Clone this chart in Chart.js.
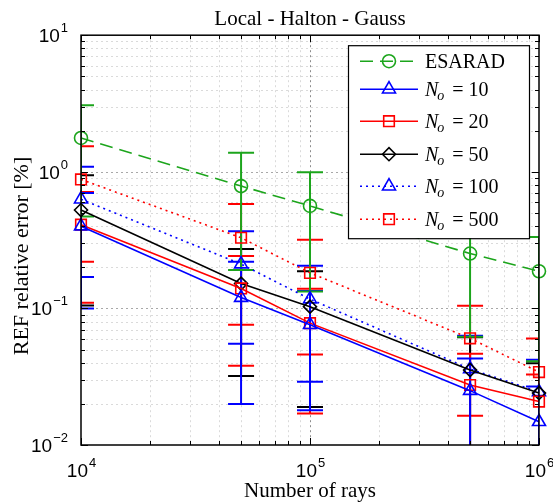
<!DOCTYPE html>
<html lang="en">
<head>
<meta charset="UTF-8">
<title>Local - Halton - Gauss</title>
<script src="https://cdn.jsdelivr.net/npm/chart.js@4.4.1/dist/chart.umd.min.js"></script>
<style>
  body { margin: 0; background: #fff; }
  #wrap { width: 553px; height: 504px; }
</style>
</head>
<body>
<div id="wrap"><canvas id="refChart" width="553" height="504"></canvas></div>
<script>
// number of rays traced per run
const rays = [1e4, 5e4, 1e5, 5e5, 1e6];

// mean REF relative error [%] and the +/- spread of each run
const esarad    = [1.77, 0.786, 0.563, 0.252, 0.187];
const esaradErr = [1.30, 0.595, 0.43, 0.19, 0.146];
const no10      = [0.40, 0.12, 0.076, 0.025, 0.0148];
const no10Err   = [0.30, 0.10, 0.058, 0.018, 0.012];
const no20      = [0.41, 0.14, 0.078, 0.0275, 0.0208];
const no20Err   = [0.30, 0.102, 0.061, 0.019, 0.012];
const no50      = [0.525, 0.152, 0.103, 0.0354, 0.024];
const no50Err   = [0.42, 0.12, 0.084, 0.026, 0.0156];
const no100     = [0.63, 0.211, 0.117, 0.036, 0.0245];
const no100Err  = [0.46, 0.156, 0.088, 0.027, 0.0175];
const no500     = [0.88, 0.329, 0.182, 0.0604, 0.0342];
const no500Err  = [0.66, 0.253, 0.136, 0.044, 0.026];

const seriesNames = ['ESARAD', 'N_o = 10', 'N_o = 20', 'N_o = 50', 'N_o = 100', 'N_o = 500'];
const seriesValues = [esarad, no10, no20, no50, no100, no500];
const seriesErrors = [esaradErr, no10Err, no20Err, no50Err, no100Err, no500Err];

// decade exponents used for the tick labels
const xExp = [4, 5, 6];
const yExp = [-2, -1, 0, 1];

// line look of each series
const styles = [
    { color: '#1ca51c', dash: [13, 7], marker: 'circle',   r: 6.5 },
    { color: '#0000ff', dash: [],      marker: 'triangle', r: 7.5 },
    { color: '#ff0000', dash: [],      marker: 'rect',     r: 7.5 },
    { color: '#000000', dash: [],      marker: 'rectRot',  r: 6.5 },
    { color: '#0000ff', dash: [2, 4],  marker: 'triangle', r: 7.5 },
    { color: '#ff0000', dash: [2, 4],  marker: 'rect',     r: 7.5 }
];

const serif = '"Liberation Serif", "Times New Roman", serif';
const sans = '"Liberation Sans", Arial, sans-serif';

function minorValues(exps) {
    const out = [];
    for (let i = 0; i < exps.length - 1; i++) {
        for (let k = 2; k <= 9; k++) out.push(k * Math.pow(10, exps[i]));
    }
    return out;
}

// dotted grid behind everything
const gridPlugin = {
    id: 'gridLines',
    beforeDatasetsDraw(chart) {
        const { ctx, chartArea: a, scales: { x, y } } = chart;
        ctx.save();
        ctx.lineWidth = 1;
        ctx.setLineDash([2, 3]);
        const vline = (v, col) => {
            const px = Math.round(x.getPixelForValue(v)) + 0.5;
            ctx.strokeStyle = col;
            ctx.beginPath(); ctx.moveTo(px, a.top); ctx.lineTo(px, a.bottom); ctx.stroke();
        };
        const hline = (v, col) => {
            const py = Math.round(y.getPixelForValue(v)) + 0.5;
            ctx.strokeStyle = col;
            ctx.beginPath(); ctx.moveTo(a.left, py); ctx.lineTo(a.right, py); ctx.stroke();
        };
        minorValues(xExp).forEach(v => vline(v, '#dadada'));
        minorValues(yExp).forEach(v => hline(v, '#dadada'));
        xExp.slice(1, -1).forEach(e => vline(Math.pow(10, e), '#8c8c8c'));
        yExp.slice(1, -1).forEach(e => hline(Math.pow(10, e), '#a8a8a8'));
        ctx.restore();
    }
};

// vertical error bars with caps, clipped to the axes box
const errorBarPlugin = {
    id: 'errorBars',
    beforeDatasetsDraw(chart) {
        const { ctx, chartArea: a, scales: { x, y } } = chart;
        const cap = 13;
        ctx.save();
        ctx.beginPath();
        ctx.rect(a.left, a.top, a.right - a.left, a.bottom - a.top);
        ctx.clip();
        ctx.setLineDash([]);
        ctx.lineWidth = 2;
        for (let i = chart.data.datasets.length - 1; i >= 0; i--) {
            const ds = chart.data.datasets[i];
            ctx.strokeStyle = ds.borderColor;
            ds.data.forEach((p, j) => {
                const e = ds.errorBars[j];
                const px = x.getPixelForValue(p.x);
                const hi = y.getPixelForValue(p.y + e);
                const lowVal = p.y - e;
                const lo = lowVal > 0 ? y.getPixelForValue(lowVal) : a.bottom + 20;
                ctx.beginPath();
                ctx.moveTo(px, hi); ctx.lineTo(px, lo);
                ctx.moveTo(px - cap, hi); ctx.lineTo(px + cap, hi);
                if (lowVal > 0) { ctx.moveTo(px - cap, lo); ctx.lineTo(px + cap, lo); }
                ctx.stroke();
            });
        }
        ctx.restore();
    }
};

function drawPow(ctx, exp, x, y, align) {
    // "10" with a raised exponent, y is the middle of the "10"
    ctx.font = '19px ' + sans;
    const base = '10';
    const sup = String(exp).replace('-', '\u2212');
    const wb = ctx.measureText(base).width;
    ctx.font = '13px ' + sans;
    const ws = ctx.measureText(sup).width;
    let left = x;
    if (align === 'right') left = x - wb - ws;
    if (align === 'center') left = x - (wb + ws) / 2;
    ctx.textAlign = 'left';
    ctx.textBaseline = 'alphabetic';
    ctx.font = '19px ' + sans;
    ctx.fillText(base, left, y + 7);
    ctx.font = '13px ' + sans;
    ctx.fillText(sup, left + wb + 1, y - 3);
}

function drawLegend(chart) {
    const { ctx, chartArea: a } = chart;
    const w = 181, h = 193;
    const left = a.right - w - 10, top = a.top + 10;
    const rows = [16, 44, 76, 109, 141, 174];
    ctx.save();
    ctx.fillStyle = '#fff';
    ctx.fillRect(left, top, w, h);
    ctx.strokeStyle = '#000';
    ctx.lineWidth = 1.2;
    ctx.strokeRect(left + 0.5, top + 0.5, w, h);
    chart.data.datasets.forEach((ds, i) => {
        const yy = top + rows[i];
        ctx.strokeStyle = ds.borderColor;
        ctx.lineWidth = ds.borderWidth;
        ctx.setLineDash(ds.borderDash || []);
        ctx.beginPath(); ctx.moveTo(left + 12, yy); ctx.lineTo(left + 70, yy); ctx.stroke();
        ctx.setLineDash([]);
        ctx.lineWidth = ds.pointBorderWidth;
        ctx.fillStyle = 'rgba(0,0,0,0)';
        Chart.helpers.drawPoint(ctx, {
            pointStyle: ds.pointStyle, radius: ds.pointRadius,
            borderWidth: ds.pointBorderWidth, rotation: 0
        }, left + 41, yy);

        ctx.fillStyle = '#000';
        ctx.textAlign = 'left';
        ctx.textBaseline = 'alphabetic';
        let tx = left + 77;
        const base = yy + 7;
        if (ds.label.startsWith('N_o')) {
            ctx.font = 'italic 20px ' + serif;
            ctx.fillText('N', tx, base);
            tx += ctx.measureText('N').width - 1;
            ctx.font = 'italic 14px ' + serif;
            ctx.fillText('o', tx, base + 4);
            tx += ctx.measureText('o').width + 8;
            ctx.font = '20px ' + serif;
            ctx.fillText('=', tx, base);
            tx += ctx.measureText('=').width + 5;
            ctx.fillText(ds.label.split('= ')[1], tx, base);
        } else {
            ctx.font = '20px ' + serif;
            ctx.fillText(ds.label, tx, base);
        }
    });
    ctx.restore();
}

// box, inward ticks, tick labels, axis titles and legend
const framePlugin = {
    id: 'frame',
    afterDraw(chart) {
        const { ctx, chartArea: a, scales: { x, y } } = chart;
        ctx.save();
        ctx.strokeStyle = '#000';
        ctx.lineWidth = 1;
        ctx.setLineDash([]);
        const xt = (v, len) => {
            const px = Math.round(x.getPixelForValue(v)) + 0.5;
            ctx.beginPath();
            ctx.moveTo(px, a.bottom); ctx.lineTo(px, a.bottom - len);
            ctx.moveTo(px, a.top); ctx.lineTo(px, a.top + len);
            ctx.stroke();
        };
        const yt = (v, len) => {
            const py = Math.round(y.getPixelForValue(v)) + 0.5;
            ctx.beginPath();
            ctx.moveTo(a.left, py); ctx.lineTo(a.left + len, py);
            ctx.moveTo(a.right, py); ctx.lineTo(a.right - len, py);
            ctx.stroke();
        };
        minorValues(xExp).forEach(v => xt(v, 4));
        minorValues(yExp).forEach(v => yt(v, 4));
        xExp.forEach(e => xt(Math.pow(10, e), 7));
        yExp.forEach(e => yt(Math.pow(10, e), 7));

        ctx.lineWidth = 1.5;
        ctx.strokeRect(a.left, a.top, a.right - a.left, a.bottom - a.top);

        ctx.fillStyle = '#000';
        xExp.forEach(e => drawPow(ctx, e, x.getPixelForValue(Math.pow(10, e)), a.bottom + 25, 'center'));
        yExp.forEach(e => drawPow(ctx, e, a.left - 14, y.getPixelForValue(Math.pow(10, e)), 'right'));

        ctx.textAlign = 'center';
        ctx.textBaseline = 'alphabetic';
        ctx.font = '21px ' + serif;
        ctx.fillText('Number of rays', (a.left + a.right) / 2, 497);
        ctx.font = '22px ' + serif;
        ctx.translate(28, 256);
        ctx.rotate(-Math.PI / 2);
        ctx.fillText('REF relative error [%]', 0, 0);
        ctx.restore();

        drawLegend(chart);
    }
};

const datasets = seriesValues.map((vals, i) => ({
    label: seriesNames[i],
    data: vals.map((v, j) => ({ x: rays[j], y: v })),
    errorBars: seriesErrors[i],
    borderColor: styles[i].color,
    borderDash: styles[i].dash,
    borderWidth: 1.6,
    pointStyle: styles[i].marker,
    pointRadius: styles[i].r,
    pointBorderWidth: 1.6,
    pointBorderColor: styles[i].color,
    pointBackgroundColor: 'rgba(0,0,0,0)',
    fill: false,
    tension: 0,
    clip: false
}));

new Chart(document.getElementById('refChart'), {
    type: 'line',
    data: { datasets: datasets },
    options: {
        responsive: false,
        animation: false,
        events: [],
        layout: { padding: { left: 81, right: 14, top: 0, bottom: 59 } },
        plugins: {
            legend: { display: false },
            tooltip: { enabled: false },
            title: {
                display: true,
                text: 'Local - Halton - Gauss',
                color: '#000',
                font: { family: serif, size: 21, weight: 'normal', lineHeight: 1.2 },
                padding: { top: 7, bottom: 3 }
            }
        },
        scales: {
            x: { type: 'logarithmic', min: 1e4, max: 1e6, display: false },
            y: { type: 'logarithmic', min: 1e-2, max: 1e1, display: false }
        }
    },
    plugins: [gridPlugin, errorBarPlugin, framePlugin]
});
</script>
</body>
</html>
